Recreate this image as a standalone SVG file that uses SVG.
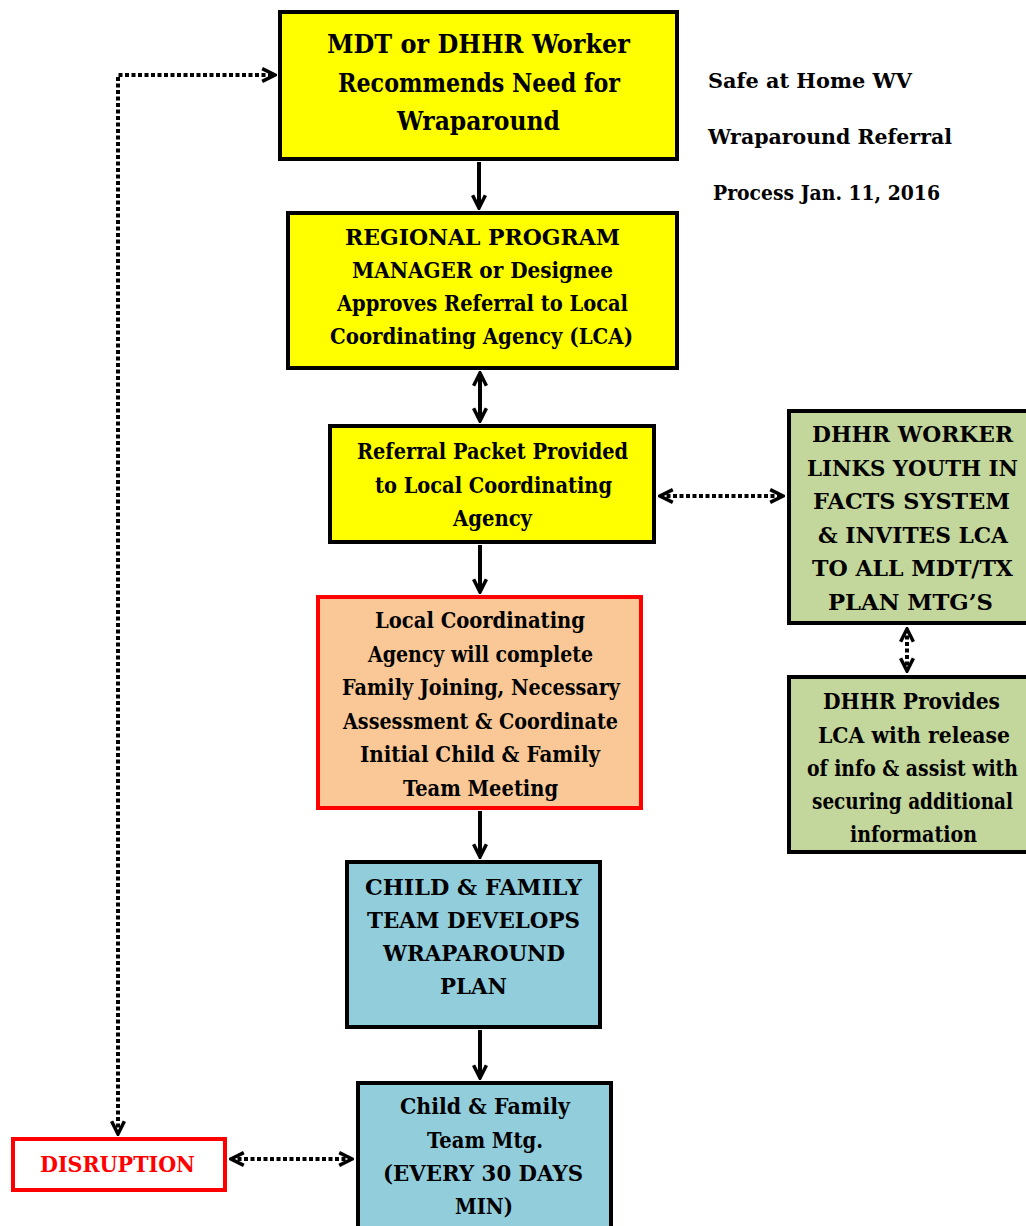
<svg xmlns="http://www.w3.org/2000/svg" width="1026" height="1226" viewBox="0 0 1026 1226">
<style>
.t{font-family:"DejaVu Serif",serif;font-weight:bold;fill:#000;text-anchor:middle;font-size:22px}
.h{font-size:26px}
.l{text-anchor:start;font-size:21px}
.y{fill:#FFFF00;stroke:#000;stroke-width:4}
.g{fill:#C3D69B;stroke:#000;stroke-width:4}
.b{fill:#92CDDC;stroke:#000;stroke-width:4}
.o{fill:#FAC896;stroke:#FF0000;stroke-width:4}
.r{fill:#FFFFFF;stroke:#FF0000;stroke-width:4}
.s{stroke:#000;stroke-width:4;fill:none}
.d{stroke:#000;stroke-width:4;fill:none;stroke-dasharray:4 2.5}
</style>
<defs>
<marker id="ah" viewBox="0 0 10 10" refX="9" refY="5" markerWidth="4" markerHeight="4" orient="auto-start-reverse" markerUnits="strokeWidth">
<path d="M1,1 L9,5 L1,9" fill="none" stroke="#000" stroke-width="2.2"/>
</marker>
</defs>
<rect width="1026" height="1226" fill="#fff"/>
<g id="title">
<text class="t l" x="708" y="88" textLength="204" lengthAdjust="spacingAndGlyphs">Safe at Home WV</text>
<text class="t l" x="708" y="144" textLength="244" lengthAdjust="spacingAndGlyphs">Wraparound Referral</text>
<text class="t l" x="713" y="200" textLength="227" lengthAdjust="spacingAndGlyphs">Process Jan. 11, 2016</text>
</g>
<g id="connectors">
<line class="s" x1="479" y1="162" x2="479" y2="208" marker-end="url(#ah)"/>
<line class="s" x1="480" y1="373" x2="480" y2="421" marker-start="url(#ah)" marker-end="url(#ah)"/>
<line class="s" x1="480" y1="545" x2="480" y2="592" marker-end="url(#ah)"/>
<line class="s" x1="480" y1="811" x2="480" y2="857" marker-end="url(#ah)"/>
<line class="s" x1="480" y1="1030" x2="480" y2="1078" marker-end="url(#ah)"/>
<polyline class="d" points="118,1134 118,75 275,75" marker-start="url(#ah)" marker-end="url(#ah)"/>
<line class="d" x1="660" y1="496" x2="783" y2="496" marker-start="url(#ah)" marker-end="url(#ah)"/>
<line class="d" x1="907" y1="629" x2="907" y2="671" marker-start="url(#ah)" marker-end="url(#ah)"/>
<line class="d" x1="231" y1="1159" x2="352" y2="1159" marker-start="url(#ah)" marker-end="url(#ah)"/>
</g>
<g id="n1">
<rect class="y" x="280" y="12" width="397" height="147"/>
<text class="t h" x="478.5" y="53" textLength="303" lengthAdjust="spacingAndGlyphs">MDT or DHHR Worker</text>
<text class="t h" x="479" y="92" textLength="282" lengthAdjust="spacingAndGlyphs">Recommends Need for</text>
<text class="t h" x="478.5" y="130" textLength="163" lengthAdjust="spacingAndGlyphs">Wraparound</text>
</g>
<g id="n2">
<rect class="y" x="288" y="213" width="389" height="155"/>
<text class="t" x="482.5" y="245" textLength="275" lengthAdjust="spacingAndGlyphs">REGIONAL PROGRAM</text>
<text class="t" x="482.5" y="278" textLength="261" lengthAdjust="spacingAndGlyphs">MANAGER or Designee</text>
<text class="t" x="482.5" y="311" textLength="291" lengthAdjust="spacingAndGlyphs">Approves Referral to Local</text>
<text class="t" x="481.5" y="344" textLength="303" lengthAdjust="spacingAndGlyphs">Coordinating Agency (LCA)</text>
</g>
<g id="n3">
<rect class="y" x="330" y="426" width="324" height="116"/>
<text class="t" x="492.5" y="459" textLength="271" lengthAdjust="spacingAndGlyphs">Referral Packet Provided</text>
<text class="t" x="493.5" y="493" textLength="237" lengthAdjust="spacingAndGlyphs">to Local Coordinating</text>
<text class="t" x="492.5" y="526" textLength="79" lengthAdjust="spacingAndGlyphs">Agency</text>
</g>
<g id="n4">
<rect class="o" x="318" y="597" width="323" height="211"/>
<text class="t" x="480" y="628" textLength="210" lengthAdjust="spacingAndGlyphs">Local Coordinating</text>
<text class="t" x="480.5" y="662" textLength="225" lengthAdjust="spacingAndGlyphs">Agency will complete</text>
<text class="t" x="481" y="695" textLength="278" lengthAdjust="spacingAndGlyphs">Family Joining, Necessary</text>
<text class="t" x="480.5" y="729" textLength="275" lengthAdjust="spacingAndGlyphs">Assessment &amp; Coordinate</text>
<text class="t" x="480" y="762" textLength="240" lengthAdjust="spacingAndGlyphs">Initial Child &amp; Family</text>
<text class="t" x="480.5" y="796" textLength="155" lengthAdjust="spacingAndGlyphs">Team Meeting</text>
</g>
<g id="n5">
<rect class="b" x="347" y="862" width="253" height="165"/>
<text class="t" x="473.5" y="895" textLength="217" lengthAdjust="spacingAndGlyphs">CHILD &amp; FAMILY</text>
<text class="t" x="473.5" y="928" textLength="213" lengthAdjust="spacingAndGlyphs">TEAM DEVELOPS</text>
<text class="t" x="474" y="961" textLength="182" lengthAdjust="spacingAndGlyphs">WRAPAROUND</text>
<text class="t" x="473.5" y="994" textLength="67" lengthAdjust="spacingAndGlyphs">PLAN</text>
</g>
<g id="n6">
<rect class="b" x="358" y="1083" width="253" height="150"/>
<text class="t" x="485" y="1114" textLength="170" lengthAdjust="spacingAndGlyphs">Child &amp; Family</text>
<text class="t" x="485" y="1148" textLength="116" lengthAdjust="spacingAndGlyphs">Team Mtg.</text>
<text class="t" x="483" y="1181" textLength="200" lengthAdjust="spacingAndGlyphs">(EVERY 30 DAYS</text>
<text class="t" x="484" y="1214" textLength="58" lengthAdjust="spacingAndGlyphs">MIN)</text>
</g>
<g id="n7">
<rect class="g" x="789" y="411" width="245" height="212"/>
<text class="t" x="912.5" y="442" textLength="201" lengthAdjust="spacingAndGlyphs">DHHR WORKER</text>
<text class="t" x="912.5" y="476" textLength="211" lengthAdjust="spacingAndGlyphs">LINKS YOUTH IN</text>
<text class="t" x="911.5" y="509" textLength="197" lengthAdjust="spacingAndGlyphs">FACTS SYSTEM</text>
<text class="t" x="913" y="543" textLength="190" lengthAdjust="spacingAndGlyphs">&amp; INVITES LCA</text>
<text class="t" x="912.5" y="576" textLength="201" lengthAdjust="spacingAndGlyphs">TO ALL MDT/TX</text>
<text class="t" x="910.5" y="610" textLength="165" lengthAdjust="spacingAndGlyphs">PLAN MTG’S</text>
</g>
<g id="n8">
<rect class="g" x="789" y="677" width="245" height="175"/>
<text class="t" x="911.5" y="709" textLength="177" lengthAdjust="spacingAndGlyphs">DHHR Provides</text>
<text class="t" x="914" y="743" textLength="192" lengthAdjust="spacingAndGlyphs">LCA with release</text>
<text class="t" x="912.5" y="776" textLength="211" lengthAdjust="spacingAndGlyphs">of info &amp; assist with</text>
<text class="t" x="912.5" y="809" textLength="201" lengthAdjust="spacingAndGlyphs">securing additional</text>
<text class="t" x="913.5" y="842" textLength="127" lengthAdjust="spacingAndGlyphs">information</text>
</g>
<g id="n9">
<rect class="r" x="13" y="1139" width="212" height="51"/>
<text class="t" x="117.5" y="1172" style="fill:#FF0000" textLength="155" lengthAdjust="spacingAndGlyphs">DISRUPTION</text>
</g>
</svg>
